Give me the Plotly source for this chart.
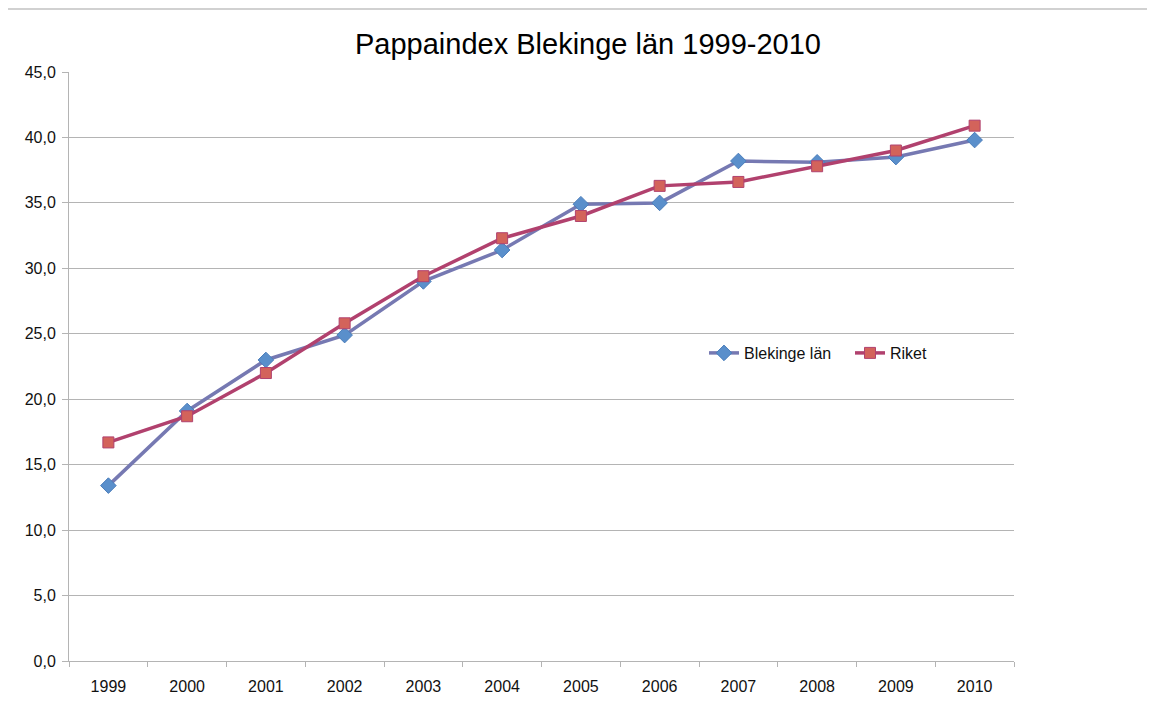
import plotly.graph_objects as go

years = ["1999", "2000", "2001", "2002", "2003", "2004", "2005", "2006", "2007", "2008", "2009", "2010"]
blekinge = [13.4, 19.1, 23.0, 24.9, 29.0, 31.4, 34.9, 35.0, 38.2, 38.1, 38.5, 39.8]
riket = [16.7, 18.7, 22.0, 25.8, 29.4, 32.3, 34.0, 36.3, 36.6, 37.8, 39.0, 40.9]

# the page body has an 8px margin, so the figure is drawn 8px right and down
OFF = 8
W, H = 1155 - OFF, 711 - OFF
L, T = 69 - OFF, 72 - OFF
pw, ph = 945, 589
R, B = W - L - pw, H - T - ph

def px_x(p):
    """reference screenshot x pixel -> paper x"""
    return (p - OFF - L) / pw

def px_y(p):
    """reference screenshot y pixel -> paper y"""
    return (T + ph - (p - OFF)) / ph

FONT = "Liberation Sans, Arial, Helvetica, sans-serif"

fig = go.Figure()
fig.add_trace(go.Scatter(
    x=years, y=blekinge, name="Blekinge län", mode="lines+markers",
    line=dict(color="#7679B2", width=3.5),
    marker=dict(symbol="diamond", size=12, color="#5A8FCB", line=dict(color="#4A7DBB", width=1)),
))
fig.add_trace(go.Scatter(
    x=years, y=riket, name="Riket", mode="lines+markers",
    line=dict(color="#B1416E", width=3.5),
    marker=dict(symbol="square", size=11, color="#D3635B", line=dict(color="#B1416E", width=1)),
))

grid = "#b4b4b4"
fig.update_layout(
    width=W, height=H,
    margin=dict(l=L, r=R, t=T, b=B),
    paper_bgcolor="white", plot_bgcolor="white",
    separators=",.",
    font=dict(family=FONT, size=16, color="#111111"),
    title=dict(
        text="Pappaindex Blekinge län 1999-2010",
        font=dict(family=FONT, size=29, color="black"),
        x=px_x(588), xref="paper", xanchor="center",
        y=1 - (44 - OFF) / H, yref="container", yanchor="middle",
    ),
    xaxis=dict(
        type="category", range=[-0.5, len(years) - 0.5],
        tickson="boundaries", ticks="outside", ticklen=5,
        tickcolor=grid, showline=True, linecolor=grid, linewidth=1,
        showgrid=False, tickfont=dict(size=16, color="#111111"),
        ticklabelstandoff=11,
    ),
    yaxis=dict(
        range=[0, 45], dtick=5, tickformat=".1f", ticks="outside", ticklen=6,
        tickcolor=grid, showline=True, linecolor=grid, linewidth=1,
        showgrid=True, gridcolor=grid, gridwidth=1, zeroline=False,
        tickfont=dict(size=16, color="#111111"),
        ticklabelstandoff=3,
    ),
    legend=dict(
        orientation="h", x=px_x(704), xanchor="left",
        y=px_y(353), yanchor="middle", entrywidth=101,
        bgcolor="rgba(0,0,0,0)", font=dict(size=16, color="#111111"),
    ),
    showlegend=True,
)

# white box behind the legend (covers the gridline)
fig.add_shape(type="rect", xref="paper", yref="paper",
              x0=px_x(688), x1=px_x(948), y0=px_y(380), y1=px_y(326),
              fillcolor="white", line=dict(width=0), layer="between")

# outer chart border (top and left visible)
bx, by = px_x(7), px_y(9)
fig.add_shape(type="line", xref="paper", yref="paper", x0=bx, y0=by, x1=1.3, y1=by,
              line=dict(color="#c2c2c2", width=1.5))
fig.add_shape(type="line", xref="paper", yref="paper", x0=bx, y0=by, x1=bx, y1=-0.3,
              line=dict(color="#c2c2c2", width=1.5))

fig.write_html("out.html")
